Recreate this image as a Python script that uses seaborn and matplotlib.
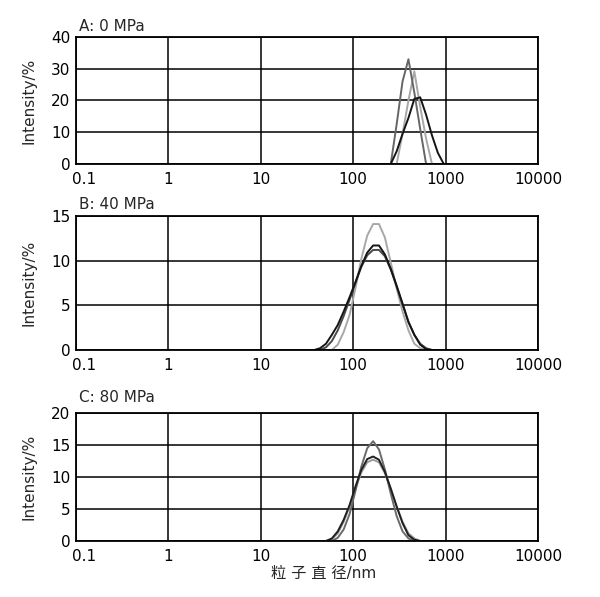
import matplotlib
matplotlib.use("Agg")
import matplotlib.pyplot as plt
from matplotlib.ticker import MultipleLocator, LogLocator, NullFormatter
from matplotlib.transforms import ScaledTranslation
import numpy as np
import pandas as pd
import seaborn as sns

# ---------------- data ----------------
# Panel A: 0 MPa
a_black_size = [255.0, 295.3, 342.0, 396.1, 458.7, 531.2, 615.1, 712.4, 825.0, 955.4]
a_black_int = [0, 4, 9.5, 14.5, 20.5, 21, 15.5, 9, 3.5, 0]
a_dark_size = [255.0, 295.3, 342.0, 396.1, 458.7, 531.2, 615.1]
a_dark_int = [0, 12.5, 26, 33, 22.5, 11, 0]
a_light_size = [295.3, 342.0, 396.1, 458.7, 531.2, 615.1, 712.4]
a_light_int = [0, 9.5, 20, 29.2, 18, 8, 0]

# Panel B: 40 MPa
b_black_size = [37.84, 43.82, 50.75, 58.77, 68.06, 78.82, 91.28, 105.7, 122.4, 141.8, 164.2,
                190.1, 220.2, 255.0, 295.3, 342.0, 396.1, 458.7, 531.2, 615.1, 712.4]
b_black_int = [0, 0.2, 0.7, 1.7, 2.8, 4.3, 5.9, 7.6, 9.4, 10.9, 11.7,
               11.7, 10.7, 9.1, 7.2, 5.2, 3.1, 1.7, 0.6, 0.1, 0]
b_dark_size = [43.82, 50.75, 58.77, 68.06, 78.82, 91.28, 105.7, 122.4, 141.8, 164.2,
               190.1, 220.2, 255.0, 295.3, 342.0, 396.1, 458.7, 531.2, 615.1, 712.4]
b_dark_int = [0, 0.3, 1.0, 2.2, 3.8, 5.6, 7.5, 9.3, 10.6, 11.2,
              11.2, 10.5, 9.0, 7.1, 5.1, 3.2, 1.7, 0.7, 0.2, 0]
b_light_size = [58.77, 68.06, 78.82, 91.28, 105.7, 122.4, 141.8, 164.2,
                190.1, 220.2, 255.0, 295.3, 342.0, 396.1, 458.7, 531.2, 615.1]
b_light_int = [0, 0.6, 2.0, 3.9, 6.9, 10.2, 12.8, 14.1,
               14.1, 12.6, 9.8, 6.9, 4.3, 2.2, 0.7, 0.2, 0]

# Panel C: 80 MPa
c_black_size = [50.75, 58.77, 68.06, 78.82, 91.28, 105.7, 122.4, 141.8, 164.2,
                190.1, 220.2, 255.0, 295.3, 342.0, 396.1, 458.7, 531.2]
c_black_int = [0, 0.4, 1.5, 3.3, 5.6, 8.5, 11.1, 12.8, 13.2,
               12.7, 10.8, 8.2, 5.4, 2.8, 0.9, 0.2, 0]
c_dark_size = [58.77, 68.06, 78.82, 91.28, 105.7, 122.4, 141.8, 164.2,
               190.1, 220.2, 255.0, 295.3, 342.0, 396.1, 458.7]
c_dark_int = [0, 0.5, 1.8, 4.2, 7.8, 11.6, 14.5, 15.6,
              14.3, 11.2, 7.4, 3.9, 1.5, 0.4, 0]
c_light_size = [50.75, 58.77, 68.06, 78.82, 91.28, 105.7, 122.4, 141.8, 164.2,
                190.1, 220.2, 255.0, 295.3, 342.0, 396.1, 458.7, 531.2]
c_light_int = [0, 0.3, 1.2, 3.0, 5.4, 8.2, 10.7, 12.3, 12.7,
               12.3, 10.6, 8.1, 5.4, 3.0, 1.2, 0.4, 0]

panel_titles = ["A: 0 MPa", "B: 40 MPa", "C: 80 MPa"]
y_max = [40, 15, 20]
y_major = [10, 5, 5]
x_ticks = [0.1, 1, 10, 100, 1000, 10000]
x_tick_labels = ["0.1", "1", "10", "100", "1000", "10000"]
y_label = "Intensity/%"
x_label = "粒 子 直 径/nm"

panels = [
    [("light", a_light_size, a_light_int), ("dark", a_dark_size, a_dark_int), ("black", a_black_size, a_black_int)],
    [("light", b_light_size, b_light_int), ("dark", b_dark_size, b_dark_int), ("black", b_black_size, b_black_int)],
    [("light", c_light_size, c_light_int), ("dark", c_dark_size, c_dark_int), ("black", c_black_size, c_black_int)],
]
palettes = [
    {"light": "#a8a8a8", "dark": "#666666", "black": "#151515"},
    {"light": "#a8a8a8", "dark": "#4a4a4a", "black": "#151515"},
    {"light": "#9a9a9a", "dark": "#6a6a6a", "black": "#202020"},
]

# ---------------- style ----------------
sns.set_style("white")
plt.rcParams["font.family"] = ["DejaVu Sans", "Noto Sans CJK SC"]
plt.rcParams["font.size"] = 11

W, H = 600, 597
fig = plt.figure(figsize=(W / 100, H / 100), dpi=100)

# axes boxes in pixels: (left, top, right, bottom)
boxes = [(76, 37, 538, 164), (76, 216, 538, 350), (76, 413, 538, 541)]
title_pos = [(79, 31), (79, 209), (79, 402)]

for i, (box, series) in enumerate(zip(boxes, panels)):
    l, t, r, b = box
    ax = fig.add_axes([l / W, 1 - b / H, (r - l) / W, (b - t) / H])
    frames = [pd.DataFrame({"size": s, "intensity": v, "run": name}) for name, s, v in series]
    df = pd.concat(frames, ignore_index=True)
    sns.lineplot(data=df, x="size", y="intensity", hue="run",
                 hue_order=["light", "dark", "black"], palette=palettes[i],
                 estimator=None, sort=False, legend=False, linewidth=1.4, ax=ax)
    ax.set_xscale("log")
    ax.set_xlim(0.1, 10000)
    ax.set_ylim(0, y_max[i])
    ax.set_xticks(x_ticks, x_tick_labels)
    ax.xaxis.set_minor_locator(LogLocator(base=10, subs=np.arange(2, 10)))
    ax.xaxis.set_minor_formatter(NullFormatter())
    ax.yaxis.set_major_locator(MultipleLocator(y_major[i]))
    ax.yaxis.set_minor_locator(MultipleLocator(y_major[i] / 2))
    ax.grid(True, which="major", color="black", linewidth=1.1)
    ax.set_axisbelow(True)
    for sp in ax.spines.values():
        sp.set_visible(True)
        sp.set_color("black")
        sp.set_linewidth(1.3)
    ax.tick_params(axis="both", which="major", length=0, pad=4, labelsize=11, colors="black")
    ax.tick_params(axis="x", which="major", pad=6)
    ax.tick_params(axis="x", which="minor", direction="in", length=2.5, width=0.8, color="black")
    ax.tick_params(axis="y", which="minor", direction="inout", length=4, width=1.2, color="black")
    # nudge the first x label right so it clears the y "0" label (as in the reference)
    first = ax.get_xticklabels()[0]
    first.set_transform(first.get_transform() + ScaledTranslation(8 / 100, 0, fig.dpi_scale_trans))
    ax.set_xlabel("")
    ax.set_ylabel(y_label, fontsize=11)
    ax.yaxis.set_label_coords(-(76 - 37) / (r - l), 0.5)
    tx, ty = title_pos[i]
    fig.text(tx / W, 1 - ty / H, panel_titles[i], ha="left", va="baseline", fontsize=11)

fig.text(324 / W, 1 - 578 / H, x_label, ha="center", va="baseline", fontsize=11)

fig.savefig("out.png", dpi=100, facecolor="white")
